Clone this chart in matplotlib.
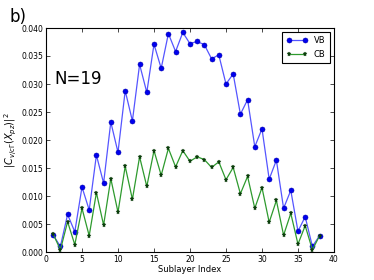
import numpy as np
import matplotlib
matplotlib.use("Agg")
import matplotlib.pyplot as plt

# sublayer index
layers = np.arange(1, 39)
vb = [0.0030, 0.0010, 0.0067, 0.0036, 0.0116, 0.0075, 0.0173, 0.0123, 0.0232, 0.0178,
      0.0288, 0.0234, 0.0335, 0.0285, 0.0371, 0.0328, 0.0390, 0.0358, 0.0392, 0.0372,
      0.0376, 0.0370, 0.0345, 0.0352, 0.0300, 0.0318, 0.0246, 0.0272, 0.0188, 0.0220,
      0.0130, 0.0164, 0.0078, 0.0110, 0.0037, 0.0063, 0.0010, 0.0029]
cb = [0.0032, 0.0004, 0.0054, 0.0013, 0.0078, 0.0029, 0.0106, 0.0048, 0.0131, 0.0071,
      0.0153, 0.0094, 0.0170, 0.0117, 0.0181, 0.0137, 0.0185, 0.0152, 0.0181, 0.0162,
      0.0170, 0.0165, 0.0151, 0.0161, 0.0129, 0.0151, 0.0104, 0.0135, 0.0078, 0.0115,
      0.0053, 0.0092, 0.0030, 0.0069, 0.0014, 0.0047, 0.0004, 0.0029]

fig = plt.figure(figsize=(3.74, 2.80), dpi=100)
ax = fig.add_axes([0.123, 0.10, 0.770, 0.80])

ax.plot(layers, vb, color="#5555ff", lw=0.9, marker="o", ms=3.6,
        mfc="#0000ee", mec="#0000b0", mew=0.4, label="VB")
ax.plot(layers, cb, color="#2e9a2e", lw=0.9, marker="*", ms=3.6,
        mfc="#0b3d0b", mec="#0b3d0b", mew=0.3, label="CB")

ax.set_xlim(0, 40)
ax.set_ylim(0, 0.04)
ax.set_xticks(np.arange(0, 41, 5))
ax.set_yticks(np.arange(0, 0.0401, 0.005))
ax.yaxis.set_major_formatter(matplotlib.ticker.FormatStrFormatter("%.3f"))
ax.tick_params(labelsize=5.5, direction="in", length=3, width=0.5,
               top=True, right=True, pad=2)
for s in ax.spines.values():
    s.set_linewidth(0.8)

ax.set_xlabel("Sublayer Index", fontsize=6, labelpad=1)
ax.set_ylabel(r"$|C_{v/c\Gamma}(X_{pz})|^2$", fontsize=7, labelpad=2)
ax.text(1.1, 0.0300, "N=19", fontsize=12)
fig.text(0.025, 0.92, "b)", fontsize=12)

leg = ax.legend(loc="upper right", fontsize=6, numpoints=2, handlelength=2.5,
                fancybox=False, framealpha=1, borderpad=0.5, labelspacing=0.6)
leg.get_frame().set_edgecolor("black")
leg.get_frame().set_linewidth(0.8)

fig.savefig("out.png", dpi=100)
